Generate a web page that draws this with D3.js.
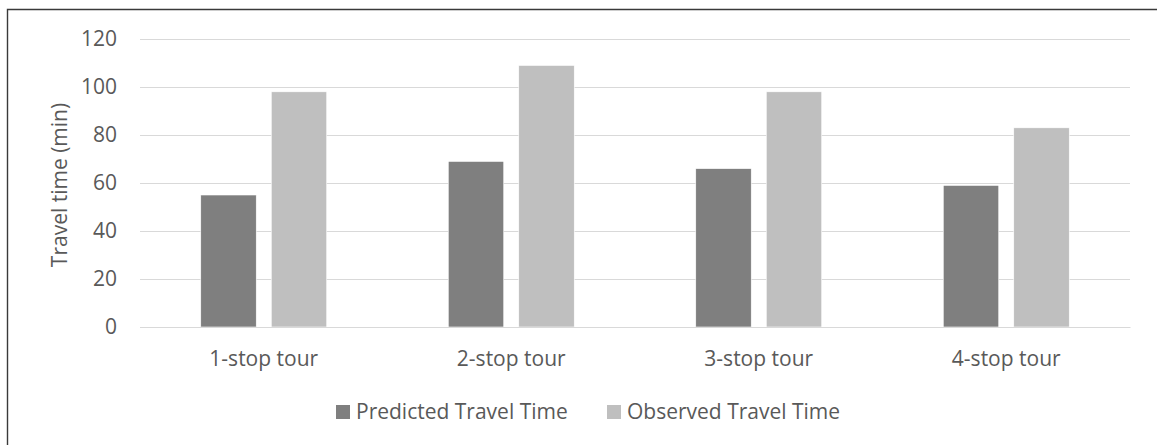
<!DOCTYPE html>
<html>
<head>
<meta charset="utf-8">
<script src="https://cdn.jsdelivr.net/npm/d3@7"></script>
<style>
  html, body { margin: 0; padding: 0; background: #fff; }
  svg { display: block; font-family: "Open Sans", sans-serif; }
</style>
</head>
<body>
<svg id="chart" width="1157" height="445"></svg>
<script>
// Travel time per tour type, in minutes
const categories = ["1-stop tour", "2-stop tour", "3-stop tour", "4-stop tour"];
const seriesNames = ["Predicted Travel Time", "Observed Travel Time"];
const predicted = [55, 69, 66, 59];
const observed = [98, 109, 98, 83];
const yTicks = [0, 20, 40, 60, 80, 100, 120];
const seriesColors = ["#7f7f7f", "#bfbfbf"];

const svg = d3.select("#chart");
const plot = { left: 140, right: 1130, top: 39, bottom: 327 };
const textColor = "#595959";
const fontSize = "21px";

// outer frame (left and top edges visible)
svg.append("path")
  .attr("d", "M7.5,445 V9.5 H1157")
  .attr("fill", "none")
  .attr("stroke", "#3a3a3a")
  .attr("stroke-width", 1.4);

const y = d3.scaleLinear().domain([0, 120]).range([plot.bottom, plot.top]);
const x0 = d3.scaleBand().domain(categories).range([plot.left, plot.right]).padding(0);
const bw = x0.bandwidth();
const x1 = d3.scaleBand().domain(seriesNames)
  .range([bw * 0.2455, bw * 0.7545]).paddingInner(0.213).paddingOuter(0);

// gridlines
const yAxis = d3.axisLeft(y).tickValues(yTicks).tickSize(-(plot.right - plot.left)).tickPadding(23);
const gy = svg.append("g").attr("transform", `translate(${plot.left},0)`).call(yAxis);
gy.select(".domain").remove();
gy.selectAll(".tick line").attr("stroke", "#d9d9d9").attr("stroke-width", 1);
gy.selectAll(".tick text")
  .attr("fill", textColor)
  .style("font-size", fontSize)
  .style("font-family", "Open Sans, sans-serif");

// bars
const rows = categories.map((c, i) => ({ cat: c, values: [predicted[i], observed[i]] }));
const groups = svg.append("g").selectAll("g").data(rows).join("g")
  .attr("transform", d => `translate(${x0(d.cat)},0)`);
groups.selectAll("rect")
  .data(d => d.values.map((v, j) => ({ name: seriesNames[j], value: v, j })))
  .join("rect")
  .attr("x", d => x1(d.name))
  .attr("width", x1.bandwidth())
  .attr("y", d => y(d.value))
  .attr("height", d => y(0) - y(d.value))
  .attr("fill", d => seriesColors[d.j])
  .attr("stroke", "#ffffff")
  .attr("stroke-width", 0.6);

// category axis
const xAxis = d3.axisBottom(x0).tickSize(0).tickPadding(24);
const gx = svg.append("g").attr("transform", `translate(0,${plot.bottom})`).call(xAxis);
gx.select(".domain").attr("stroke", "#d9d9d9").attr("stroke-width", 1.2);
gx.selectAll(".tick text")
  .attr("fill", textColor)
  .style("font-size", fontSize)
  .style("font-family", "Open Sans, sans-serif");

// y-axis title
svg.append("text")
  .attr("transform", `translate(67,185) rotate(-90)`)
  .attr("text-anchor", "middle")
  .attr("fill", textColor)
  .style("font-size", fontSize)
  .text("Travel time (min)");

// legend
const legendX = [336, 607];
const legend = svg.append("g").selectAll("g").data(seriesNames).join("g")
  .attr("transform", (d, i) => `translate(${legendX[i]},405)`);
legend.append("rect")
  .attr("width", 14).attr("height", 14)
  .attr("fill", (d, i) => seriesColors[i]);
legend.append("text")
  .attr("x", 20).attr("y", 14)
  .attr("fill", textColor)
  .style("font-size", fontSize)
  .text(d => d);
</script>
</body>
</html>
